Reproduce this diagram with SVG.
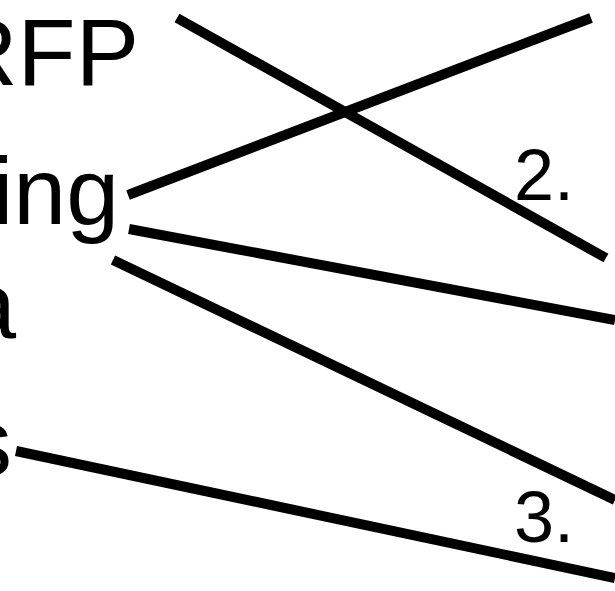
<svg xmlns="http://www.w3.org/2000/svg" width="615" height="591" viewBox="0 0 615 591">
<style>
.lbl{font-family:"Liberation Sans",Arial,sans-serif;font-size:95px;fill:#000}
.num{font-family:"Liberation Sans",Arial,sans-serif;font-size:72px;fill:#000}
.ln{stroke:#000;stroke-width:10;fill:none}
</style>
<rect width="615" height="591" fill="#fff"/>
<g id="node-rfp"><text class="lbl" x="139" y="85" text-anchor="end">RFP</text></g>
<g id="node-ing"><text class="lbl" x="119" y="224" text-anchor="end">ing</text></g>
<g id="node-a"><text class="lbl" x="16" y="338" text-anchor="end">a</text></g>
<g id="node-s"><text class="lbl" x="12" y="475" text-anchor="end">s</text></g>
<g id="connectors">
<line class="ln" x1="177" y1="18" x2="606" y2="258"/>
<line class="ln" x1="128" y1="195" x2="591" y2="18"/>
<line class="ln" x1="129" y1="229" x2="615" y2="320"/>
<line class="ln" x1="113" y1="260" x2="615" y2="500"/>
<line class="ln" x1="16" y1="451" x2="615" y2="578"/>
</g>
<g id="labels">
<text class="num" x="514" y="200">2.</text>
<text class="num" x="514" y="542">3.</text>
</g>
</svg>
